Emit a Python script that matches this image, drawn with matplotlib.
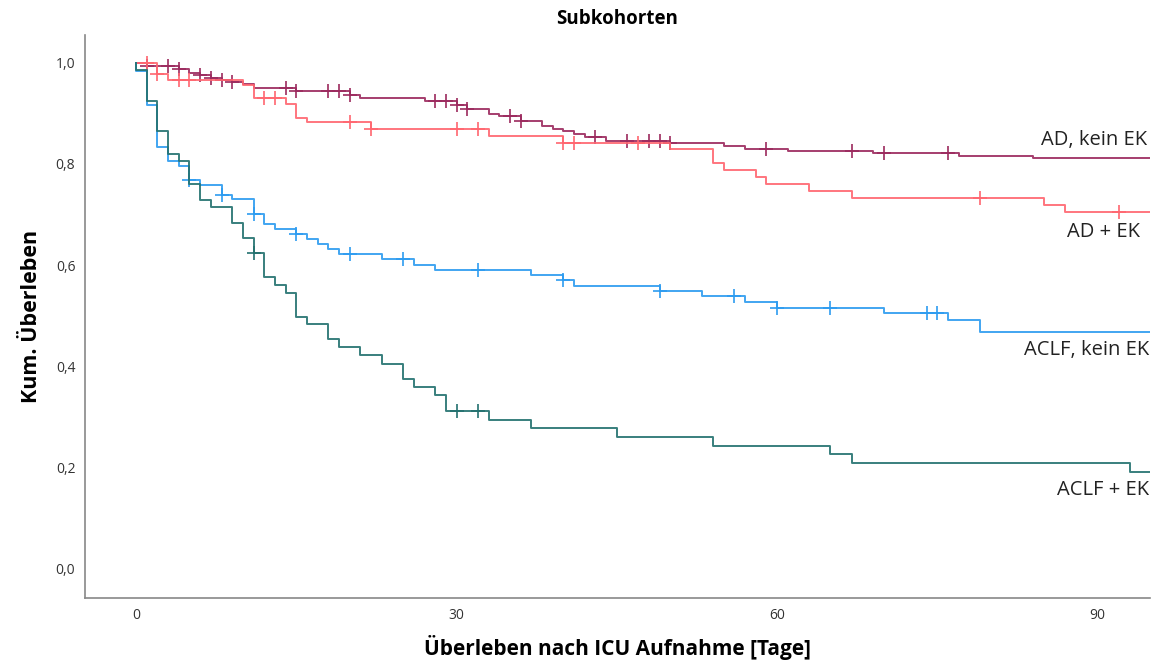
import matplotlib
matplotlib.use("Agg")
import matplotlib.pyplot as plt
import numpy as np

# Kaplan-Meier Stufen: Zeitpunkt des Abfalls (Tage) und Überleben danach
ad_kein_t = [1, 4, 5, 6, 7, 8, 9, 10, 11, 15, 20, 21, 27, 30, 31, 33, 34, 36, 38, 39,
             40, 41, 42, 44, 50, 55, 57, 61, 69, 77, 84]
ad_kein_s = [0.994, 0.987, 0.981, 0.976, 0.971, 0.966, 0.962, 0.958, 0.951, 0.945,
             0.937, 0.930, 0.925, 0.917, 0.908, 0.899, 0.894, 0.885, 0.875, 0.870,
             0.865, 0.859, 0.854, 0.846, 0.841, 0.836, 0.830, 0.826, 0.822, 0.816, 0.811]
ad_kein_cens = [1, 3, 4, 6, 7, 8, 9, 14, 15, 18, 19, 20, 28, 29, 30, 31, 35, 36, 43,
                46, 48, 49, 50, 59, 67, 70, 76]

ad_ek_t = [2, 3, 10, 11, 14, 15, 16, 22, 33, 40, 50, 54, 55, 58, 59, 63, 67, 85, 87]
ad_ek_s = [0.978, 0.966, 0.957, 0.930, 0.919, 0.892, 0.883, 0.869, 0.855, 0.842,
           0.829, 0.801, 0.788, 0.774, 0.760, 0.747, 0.733, 0.719, 0.704]
ad_ek_cens = [1, 2, 4, 5, 12, 13, 20, 22, 30, 32, 40, 41, 47, 79, 92]

aclf_kein_t = [0, 1, 2, 3, 4, 5, 6, 8, 9, 11, 12, 13, 15, 16, 17, 18, 19, 23, 26, 28,
               37, 40, 41, 49, 53, 57, 60, 70, 76, 79]
aclf_kein_s = [0.984, 0.917, 0.833, 0.805, 0.797, 0.768, 0.758, 0.739, 0.731, 0.701,
               0.681, 0.671, 0.661, 0.651, 0.642, 0.632, 0.622, 0.611, 0.601, 0.591,
               0.581, 0.570, 0.559, 0.549, 0.538, 0.527, 0.515, 0.505, 0.492, 0.467]
aclf_kein_cens = [5, 8, 11, 15, 20, 25, 32, 40, 49, 56, 60, 65, 74, 75]

aclf_ek_t = [0, 1, 2, 3, 4, 5, 6, 7, 9, 10, 11, 12, 13, 14, 15, 16, 18, 19, 21, 23,
             25, 26, 28, 29, 33, 37, 45, 54, 65, 67, 93]
aclf_ek_s = [0.986, 0.925, 0.865, 0.819, 0.805, 0.760, 0.729, 0.714, 0.684, 0.653,
             0.624, 0.576, 0.560, 0.545, 0.498, 0.483, 0.453, 0.437, 0.421, 0.405,
             0.374, 0.358, 0.342, 0.311, 0.294, 0.277, 0.260, 0.242, 0.227, 0.209, 0.191]
aclf_ek_cens = [11, 30, 32]

t_max = 95
y_ticks = [0.0, 0.2, 0.4, 0.6, 0.8, 1.0]
x_ticks = [0, 30, 60, 90]

groups = [
    ("AD, kein EK", ad_kein_t, ad_kein_s, ad_kein_cens, "#9c2a5e", (94.6, 0.848)),
    ("AD + EK", ad_ek_t, ad_ek_s, ad_ek_cens, "#ff6670", (94.0, 0.665)),
    ("ACLF, kein EK", aclf_kein_t, aclf_kein_s, aclf_kein_cens, "#2d9cf0", (94.8, 0.432)),
    ("ACLF + EK", aclf_ek_t, aclf_ek_s, aclf_ek_cens, "#23716f", (94.8, 0.154)),
]

plt.rcParams['font.family'] = ['Open Sans', 'DejaVu Sans']

fig = plt.figure(figsize=(11.58, 6.63), dpi=100)
ax = fig.add_axes([0.0734, 0.098, 0.9196, 0.849])

for name, t, s, cens, col, pos in groups:
    tt = np.concatenate([[0], t, [t_max]])
    ss = np.concatenate([[1.0], s, [s[-1]]])
    ax.step(tt, ss, where='post', color=col, lw=1.4, alpha=0.9)
    # Zensierungen auf der Kurve
    idx = np.searchsorted(tt, cens, side='right') - 1
    ax.plot(cens, ss[idx], ls='none', marker='+', ms=10, mew=1.2, color=col)
    ax.text(pos[0], pos[1], name, ha='right', va='center', fontsize=14.5, color='#222222')

ax.set_xlim(-4.78, 94.9)
ax.set_ylim(-0.059, 1.055)
ax.set_xticks(x_ticks)
ax.set_yticks(y_ticks)
ax.set_yticklabels([f"{v:.1f}".replace('.', ',') for v in y_ticks])
ax.tick_params(length=0, labelsize=10, colors='#333333', pad=7)
ax.tick_params(axis='x', pad=7)
for sp in ['top', 'right']:
    ax.spines[sp].set_visible(False)
for sp in ['left', 'bottom']:
    ax.spines[sp].set_color('#888888')
    ax.spines[sp].set_linewidth(1.2)

ax.set_title("Subkohorten", fontsize=13.5, fontweight='bold', pad=8)
ax.set_xlabel("Überleben nach ICU Aufnahme [Tage]", fontsize=15, fontweight='bold', labelpad=9)
ax.set_ylabel("Kum. Überleben", fontsize=15.5, fontweight='bold', labelpad=10)

fig.savefig("out.png", dpi=100)
